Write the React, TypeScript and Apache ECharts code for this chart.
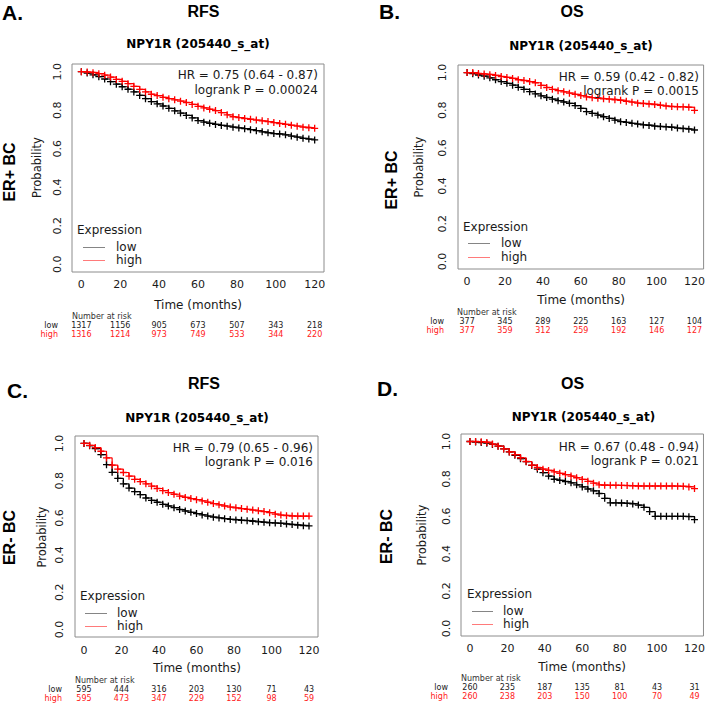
import React, { useEffect, useRef } from 'react';
import * as echarts from 'echarts';

// ---------- data ----------
const months = [0, 3, 6, 9, 12, 15, 18, 21, 24, 27, 30, 33, 36, 39, 42, 45, 48, 51, 54, 57, 60,
  63, 66, 69, 72, 75, 78, 81, 84, 87, 90, 93, 96, 99, 102, 105, 108, 111, 114, 117, 120];

const aLow = [1.0, 0.993, 0.984, 0.974, 0.962, 0.948, 0.935, 0.922, 0.909, 0.895, 0.877, 0.86, 0.845, 0.833, 0.822, 0.81, 0.797, 0.785, 0.773, 0.76, 0.746,
  0.738, 0.732, 0.726, 0.721, 0.717, 0.712, 0.708, 0.704, 0.699, 0.694, 0.688, 0.683, 0.679, 0.676, 0.672, 0.666, 0.66, 0.654, 0.65, 0.646];
const aHigh = [1.0, 0.998, 0.995, 0.99, 0.982, 0.972, 0.96, 0.95, 0.938, 0.924, 0.908, 0.895, 0.883, 0.876, 0.867, 0.86, 0.854, 0.847, 0.84, 0.83, 0.82,
  0.812, 0.805, 0.798, 0.788, 0.776, 0.766, 0.762, 0.757, 0.753, 0.749, 0.745, 0.741, 0.736, 0.731, 0.727, 0.722, 0.717, 0.712, 0.709, 0.706];
const bLow = [1.0, 0.994, 0.987, 0.981, 0.972, 0.962, 0.952, 0.943, 0.933, 0.922, 0.911, 0.899, 0.887, 0.877, 0.868, 0.859, 0.851, 0.844, 0.837, 0.825, 0.81,
  0.793, 0.784, 0.775, 0.766, 0.757, 0.748, 0.74, 0.736, 0.731, 0.727, 0.723, 0.72, 0.716, 0.714, 0.712, 0.71, 0.706, 0.703, 0.7, 0.696];
const bHigh = [1.0, 1.0, 0.995, 0.992, 0.989, 0.985, 0.979, 0.974, 0.969, 0.962, 0.958, 0.952, 0.946, 0.932, 0.921, 0.911, 0.904, 0.898, 0.891, 0.885, 0.878,
  0.871, 0.867, 0.864, 0.861, 0.859, 0.856, 0.853, 0.848, 0.843, 0.838, 0.836, 0.833, 0.831, 0.827, 0.823, 0.82, 0.819, 0.818, 0.816, 0.8];
const cLow = [1.0, 0.988, 0.972, 0.94, 0.886, 0.845, 0.812, 0.783, 0.76, 0.741, 0.725, 0.707, 0.694, 0.684, 0.673, 0.664, 0.655, 0.645, 0.637, 0.63, 0.623,
  0.616, 0.61, 0.604, 0.6, 0.596, 0.592, 0.589, 0.587, 0.585, 0.582, 0.579, 0.576, 0.574, 0.572, 0.57, 0.567, 0.564, 0.561, 0.558, 0.557];
const cHigh = [1.0, 0.99, 0.978, 0.958, 0.922, 0.884, 0.862, 0.844, 0.824, 0.807, 0.795, 0.783, 0.771, 0.758, 0.746, 0.736, 0.727, 0.717, 0.71, 0.704, 0.698,
  0.691, 0.684, 0.677, 0.67, 0.664, 0.658, 0.654, 0.65, 0.646, 0.642, 0.638, 0.634, 0.628, 0.62, 0.615, 0.612, 0.61, 0.61, 0.61, 0.61];
const dLow = [1.0, 0.997, 0.994, 0.991, 0.984, 0.975, 0.96, 0.944, 0.926, 0.908, 0.892, 0.872, 0.852, 0.833, 0.815, 0.798, 0.792, 0.786, 0.779, 0.768, 0.757,
  0.746, 0.736, 0.722, 0.696, 0.672, 0.672, 0.671, 0.669, 0.666, 0.66, 0.648, 0.625, 0.6, 0.6, 0.6, 0.6, 0.6, 0.6, 0.598, 0.582];
const dHigh = [1.0, 1.0, 0.998, 0.995, 0.986, 0.975, 0.96, 0.944, 0.93, 0.913, 0.893, 0.874, 0.861, 0.852, 0.845, 0.837, 0.83, 0.823, 0.815, 0.806, 0.797,
  0.787, 0.777, 0.768, 0.766, 0.766, 0.766, 0.765, 0.764, 0.763, 0.762, 0.762, 0.762, 0.762, 0.762, 0.762, 0.762, 0.761, 0.76, 0.757, 0.748];

const riskMonths = [0, 20, 40, 60, 80, 100, 120];
const aRiskLow = [1317, 1156, 905, 673, 507, 343, 218];
const aRiskHigh = [1316, 1214, 973, 749, 533, 344, 220];
const bRiskLow = [377, 345, 289, 225, 163, 127, 104];
const bRiskHigh = [377, 359, 312, 259, 192, 146, 127];
const cRiskLow = [595, 444, 316, 203, 130, 71, 43];
const cRiskHigh = [595, 473, 347, 229, 152, 98, 59];
const dRiskLow = [260, 235, 187, 135, 81, 43, 31];
const dRiskHigh = [260, 238, 203, 150, 100, 70, 49];

const xTickValues = [0, 20, 40, 60, 80, 100, 120];
const yTickValues = [0, 0.2, 0.4, 0.6, 0.8, 1.0];

const hrTexts = ['HR = 0.75 (0.64 - 0.87)', 'HR = 0.59 (0.42 - 0.82)', 'HR = 0.79 (0.65 - 0.96)', 'HR = 0.67 (0.48 - 0.94)'];
const pTexts = ['logrank P = 0.00024', 'logrank P = 0.0015', 'logrank P = 0.016', 'logrank P = 0.021'];
const letters = ['A.', 'B.', 'C.', 'D.'];
const endpoints = ['RFS', 'OS', 'RFS', 'OS'];
const groups = ['ER+ BC', 'ER+ BC', 'ER- BC', 'ER- BC'];
const probeTitle = 'NPY1R (205440_s_at)';

// ---------- styling / layout ----------
const FONT = 'DejaVu Sans';
const FONT_B = 'Liberation Sans, Arial, sans-serif';
const RED = '#ff0000';
const BLACK = '#000000';
const TXT = '#1a1a1a';
const RED_TXT = '#ff2020';
const PLUS = 'path://M0,5L10,5M5,0L5,10';

const lows = [aLow, bLow, cLow, dLow];
const highs = [aHigh, bHigh, cHigh, dHigh];
const riskLows = [aRiskLow, bRiskLow, cRiskLow, dRiskLow];
const riskHighs = [aRiskHigh, bRiskHigh, cRiskHigh, dRiskHigh];

const layout = [
  { grid: [72, 64, 252, 208], xm: 7, ym: 9, letter: [2, 12.5], endpoint: [203.5, 11], probe: [198, 44], group: [9, 172], prob: [37, 167.5],
    hr: [318, 74.5, 89.5], leg: { ex: 77, ey: 229.5, x1: 83, x2: 105, lowY: 247, highY: 260, lx: 116 }, time: [198, 305],
    risk: { hx: 72, hy: 316, lowY: 325.7, highY: 334, lab: 58 } },
  { grid: [458, 65, 246, 204], xm: 7, ym: 10, letter: [379, 11.5], endpoint: [572, 11], probe: [581, 46], group: [391, 180], prob: [419, 167],
    hr: [699, 77, 90.5], leg: { ex: 463, ey: 227, x1: 468, x2: 490, lowY: 243, highY: 257, lx: 501 }, time: [581, 300],
    risk: { hx: 457, hy: 312.3, lowY: 321, highY: 330, lab: 444 } },
  { grid: [75, 436, 243, 201], xm: 7.5, ym: 10, letter: [7, 390.5], endpoint: [204, 383.5], probe: [197, 417.5], group: [9, 537.5], prob: [42, 537],
    hr: [313, 448, 462], leg: { ex: 80, ey: 596, x1: 85, x2: 107, lowY: 613, highY: 626, lx: 117 }, time: [197, 668],
    risk: { hx: 75, hy: 680, lowY: 689, highY: 698, lab: 62 } },
  { grid: [461, 434, 243, 202], xm: 6.5, ym: 9.5, letter: [377, 388.5], endpoint: [572.5, 383.5], probe: [583.5, 416.5], group: [386, 536.5], prob: [422, 535],
    hr: [699, 446.5, 460.5], leg: { ex: 467, ey: 594, x1: 472, x2: 493, lowY: 611, highY: 624, lx: 503 }, time: [582, 667],
    risk: { hx: 461, hy: 678, lowY: 687.3, highY: 696.7, lab: 448 } },
];

function txt(x: number, y: number, text: string, o: any = {}) {
  const align = o.align || 'left';
  const va = o.va || 'middle';
  const size = o.size || 12;
  return {
    type: 'text', x, y, rotation: o.rotation || 0, silent: true, z: 10,
    style: {
      text, fill: o.color || TXT, fontSize: size, fontFamily: o.family || FONT, lineHeight: size,
      fontWeight: o.weight || 'normal', align, verticalAlign: va, textAlign: align, textVerticalAlign: va,
    },
  };
}

export default function App() {
  const ref = useRef<HTMLDivElement>(null);
  useEffect(() => {
    const chart = echarts.init(ref.current!, null, { renderer: 'svg' });
    const grid = layout.map((l) => ({
      left: l.grid[0], top: l.grid[1], width: l.grid[2], height: l.grid[3],
      show: true, borderColor: '#8c8c8c', borderWidth: 1, backgroundColor: 'transparent', containLabel: false,
    }));
    const xAxis = layout.map((l, i) => ({
      type: 'value', gridIndex: i, min: -4.8, max: 124.8,
      axisLine: { show: false }, axisTick: { show: false }, splitLine: { show: false },
      axisLabel: { customValues: xTickValues, margin: l.xm, fontSize: 11, fontFamily: FONT, color: TXT },
    }));
    const yAxis = layout.map((l, i) => ({
      type: 'value', gridIndex: i, min: -0.04, max: 1.04,
      axisLine: { show: false }, axisTick: { show: false }, splitLine: { show: false },
      axisLabel: { customValues: yTickValues, rotate: 90, margin: l.ym, fontSize: 11, fontFamily: FONT, color: TXT,
        formatter: (v: number) => v.toFixed(1) },
    }));
    const series: any[] = [];
    layout.forEach((_, i) => {
      const pairs: [number[], string][] = [[lows[i], BLACK], [highs[i], RED]];
      pairs.forEach(([vals, color], k) => {
        series.push({
          type: 'line', xAxisIndex: i, yAxisIndex: i, step: 'end',
          data: months.map((t, j) => [t, vals[j]]),
          symbol: PLUS, symbolSize: 7, showSymbol: true, showAllSymbol: true,
          lineStyle: { color, width: 1.2 },
          itemStyle: { color, borderColor: color, borderWidth: 1.3 },
          silent: true, z: 2 + k,
        });
      });
    });
    chart.setOption({ animation: false, backgroundColor: '#ffffff', grid, xAxis, yAxis, series });

    const g: any[] = [];
    layout.forEach((l, i) => {
      g.push(txt(l.letter[0], l.letter[1], letters[i], { size: 21, weight: 'bold', family: FONT_B, color: '#000' }));
      g.push(txt(l.endpoint[0], l.endpoint[1], endpoints[i], { size: 16, weight: 'bold', family: FONT_B, color: '#000', align: 'center' }));
      g.push(txt(l.probe[0], l.probe[1], probeTitle, { size: 12, weight: 'bold', color: '#000', align: 'center' }));
      g.push(txt(l.group[0], l.group[1], groups[i], { size: 16, weight: 'bold', family: FONT_B, color: '#000', align: 'center', rotation: Math.PI / 2 }));
      g.push(txt(l.prob[0], l.prob[1], 'Probability', { size: 11.5, align: 'center', rotation: Math.PI / 2 }));
      g.push(txt(l.hr[0], l.hr[1], hrTexts[i], { size: 12, align: 'right' }));
      g.push(txt(l.hr[0], l.hr[2], pTexts[i], { size: 12, align: 'right' }));
      g.push(txt(l.time[0], l.time[1], 'Time (months)', { size: 12, align: 'center' }));
      // legend
      g.push(txt(l.leg.ex, l.leg.ey, 'Expression', { size: 12 }));
      g.push({ type: 'line', silent: true, z: 10, shape: { x1: l.leg.x1, y1: l.leg.lowY + 0.5, x2: l.leg.x2, y2: l.leg.lowY + 0.5 }, style: { stroke: '#858585', lineWidth: 1 } });
      g.push({ type: 'line', silent: true, z: 10, shape: { x1: l.leg.x1, y1: l.leg.highY + 0.5, x2: l.leg.x2, y2: l.leg.highY + 0.5 }, style: { stroke: '#ff7a7a', lineWidth: 1 } });
      g.push(txt(l.leg.lx, l.leg.lowY, 'low', { size: 12 }));
      g.push(txt(l.leg.lx, l.leg.highY, 'high', { size: 12 }));
      // risk table
      g.push(txt(l.risk.hx, l.risk.hy, 'Number at risk', { size: 8, color: '#333' }));
      g.push(txt(l.risk.lab, l.risk.lowY, 'low', { size: 8, align: 'right', color: '#222' }));
      g.push(txt(l.risk.lab, l.risk.highY, 'high', { size: 8, align: 'right', color: RED_TXT }));
      riskMonths.forEach((t, k) => {
        const px = (chart.convertToPixel({ gridIndex: i } as any, [t, 0]) as number[])[0];
        g.push(txt(px, l.risk.lowY, String(riskLows[i][k]), { size: 8, align: 'center', color: '#222' }));
        g.push(txt(px, l.risk.highY, String(riskHighs[i][k]), { size: 8, align: 'center', color: RED_TXT }));
      });
    });
    chart.setOption({ graphic: g });
    return () => chart.dispose();
  }, []);
  return <div ref={ref} style={{ position: 'fixed', left: 0, top: 0, width: 708, height: 704 }} />;
}
